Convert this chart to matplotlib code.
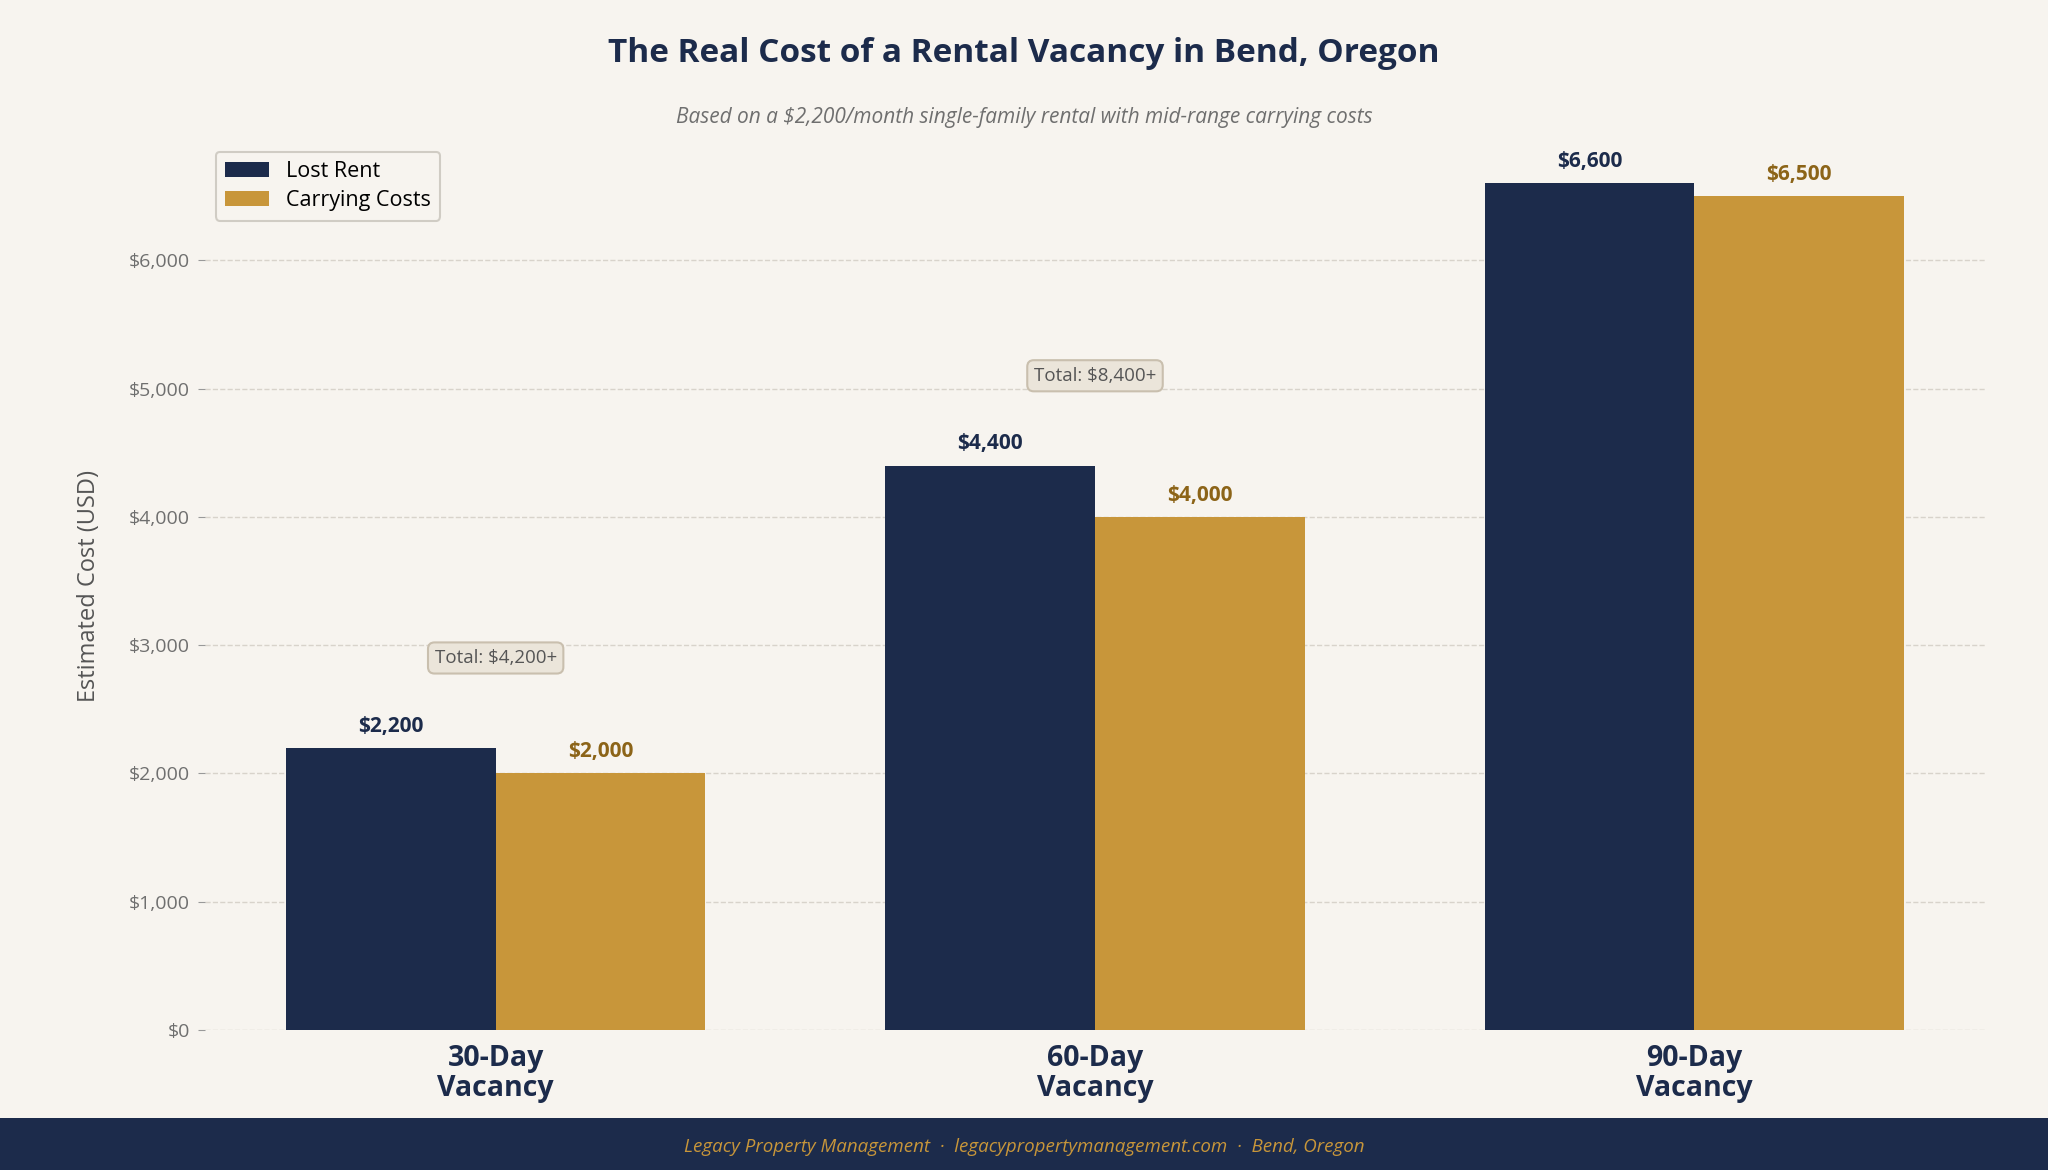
import matplotlib.pyplot as plt
from matplotlib.patches import Rectangle
import numpy as np

categories = ["30-Day\nVacancy", "60-Day\nVacancy", "90-Day\nVacancy"]
lost_rent = [2200, 4400, 6600]
carrying = [2000, 4000, 6500]
totals = ["Total: $4,200+", "Total: $8,400+"]
yticks = [0, 1000, 2000, 3000, 4000, 5000, 6000]

navy = "#1c2b4b"
gold = "#c8963a"
gold_dark = "#8c6418"
bg = "#f7f4ef"
grey = "#6f6f6f"

plt.rcParams["font.family"] = ["Open Sans", "DejaVu Sans"]

fig = plt.figure(figsize=(20.48, 11.7), dpi=100, facecolor=bg)
ax = fig.add_axes([205/2048, 1-1030/1170, 1780/2048, 889/1170])
ax.set_facecolor(bg)

x = np.arange(len(categories))
w = 0.35
b1 = ax.bar(x - w/2, lost_rent, w, color=navy, label="Lost Rent", zorder=3)
b2 = ax.bar(x + w/2, carrying, w, color=gold, label="Carrying Costs", zorder=3)

for rect, v in zip(b1, lost_rent):
    ax.annotate(f"${v:,}", (rect.get_x() + rect.get_width()/2, v),
                xytext=(0, 8), textcoords="offset points", ha="center",
                va="bottom", fontsize=15, fontweight="bold", color=navy)
for rect, v in zip(b2, carrying):
    ax.annotate(f"${v:,}", (rect.get_x() + rect.get_width()/2, v),
                xytext=(0, 8), textcoords="offset points", ha="center",
                va="bottom", fontsize=15, fontweight="bold", color=gold_dark)

for i, t in enumerate(totals):
    top = max(lost_rent[i], carrying[i])
    ax.text(x[i], top + 700, t, ha="center", va="center", fontsize=13.5,
            color="#555555", zorder=4,
            bbox=dict(boxstyle="round,pad=0.35", facecolor="#ebe5da",
                      edgecolor="#c9bfae", linewidth=1.5))

ax.set_ylim(0, max(lost_rent) * 1.05)
ax.set_yticks(yticks)
ax.set_yticklabels([f"${v:,}" for v in yticks])
ax.set_xticks(x)
ax.set_xticklabels(categories, fontsize=20.5, fontweight="bold", color=navy,
                   linespacing=1.05)
ax.tick_params(axis="x", length=0, pad=10)
ax.tick_params(axis="y", labelsize=14, labelcolor=grey, color="#999999",
               length=5, pad=6)
ax.grid(axis="y", linestyle="--", color="#d8d3cb", linewidth=1, zorder=0)
for s in ax.spines.values():
    s.set_visible(False)
ax.set_ylabel("Estimated Cost (USD)", fontsize=17, color="#555555",
              labelpad=20)

leg = ax.legend(loc="upper left", fontsize=15.5, frameon=True,
                facecolor=bg, edgecolor="#d0ccc4", framealpha=1,
                borderpad=0.45, handlelength=2.0, labelspacing=0.35,
                bbox_to_anchor=(0.0, 1.0))
leg.get_frame().set_linewidth(1.5)

fig.text(0.5, 1-54/1170, "The Real Cost of a Rental Vacancy in Bend, Oregon",
         ha="center", va="center", fontsize=24, fontweight="bold", color=navy)
fig.text(0.5, 1-117/1170,
         "Based on a $2,200/month single-family rental with mid-range carrying costs",
         ha="center", va="center", fontsize=15, style="italic", color=grey)

fig.patches.append(Rectangle((0, 0), 1, 52/1170, transform=fig.transFigure,
                             facecolor=navy, edgecolor="none", zorder=0))
fig.text(0.5, 23/1170,
         "Legacy Property Management  \u00b7  legacypropertymanagement.com  \u00b7  Bend, Oregon",
         ha="center", va="center", fontsize=13.5, style="italic", color=gold)

fig.savefig("out.png", dpi=100, facecolor=bg)
